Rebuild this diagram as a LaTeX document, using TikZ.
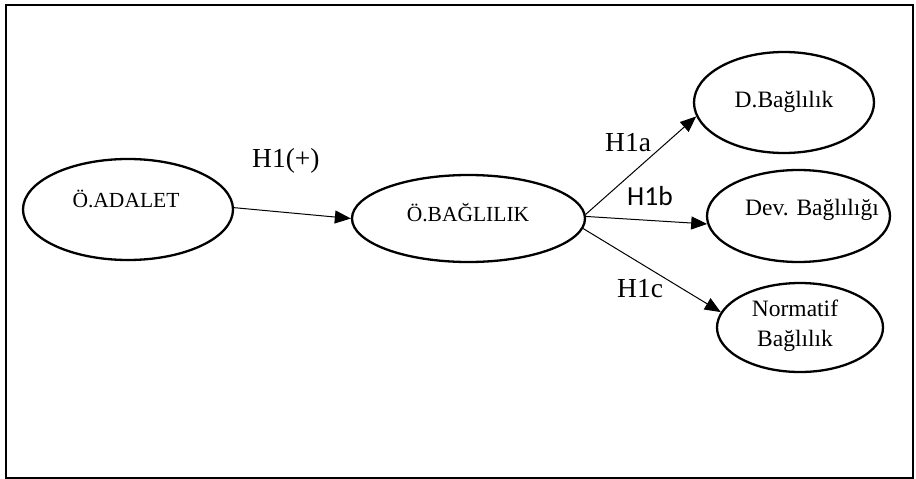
\documentclass[tikz,border=0pt]{standalone}
\usepackage{fontspec}
\setmainfont{Liberation Serif}
\newfontfamily\calibri{Carlito}
\usetikzlibrary{shapes.geometric,arrows.meta}
\begin{document}
\begin{tikzpicture}[x=1pt,y=-1pt,
  oval/.style={draw,ellipse,line width=2.3pt,inner sep=0pt},
  ntext/.style={anchor=base,inner sep=0pt,font=\fontsize{21.5}{30}\selectfont},
  mtext/.style={anchor=base,inner sep=0pt,font=\fontsize{23.5}{30}\selectfont},
  hlabel/.style={anchor=base west,inner sep=0pt,font=\fontsize{27.5}{30}\selectfont},
  conn/.style={line width=1pt,-{Triangle[length=16pt,width=13pt]}}]
\useasboundingbox (0,0) rectangle (916,479);
\draw[line width=2pt] (5.7,5) rectangle (913,477.5);
% ellipses
\node[oval,minimum width=210pt,minimum height=101pt] (adalet) at (128,209.5) {};
\node[oval,minimum width=233pt,minimum height=87pt] (bag) at (468.5,218.5) {};
\node[oval,minimum width=180pt,minimum height=101pt] (dbag) at (784,102.5) {};
\node[oval,minimum width=183pt,minimum height=92pt] (dev) at (798.5,216) {};
\node[oval,minimum width=166pt,minimum height=89pt] (norm) at (800,327.5) {};
% texts
\node[ntext] (tadalet) at (126,207) {Ö.ADALET};
\node[ntext] (tbag) at (468,221) {Ö.BAĞLILIK};
\node[mtext] (tdbag) at (784,107) {D.Bağlılık};
\node[mtext] (tdev) at (812,215) {Dev. Bağlılığı};
\node[mtext,align=center] (tnorm) at (795,346) {Normatif\\Bağlılık};
% labels
\node[hlabel] (h1) at (252,167) {H1(+)};
\node[hlabel] (h1a) at (605,151) {H1a};
\node[hlabel,font=\calibri\fontsize{27.5}{30}\selectfont] (h1b) at (627,205) {H1b};
\node[hlabel] (h1c) at (617,297) {H1c};
% connectors
\draw[conn] (adalet.1) -- (bag.180);
\draw[conn] (bag.2) -- (dbag.189);
\draw[conn] (bag.1) -- (dev.185);
\draw[conn] (bag.-5) -- (norm.169);
\end{tikzpicture}
\end{document}
